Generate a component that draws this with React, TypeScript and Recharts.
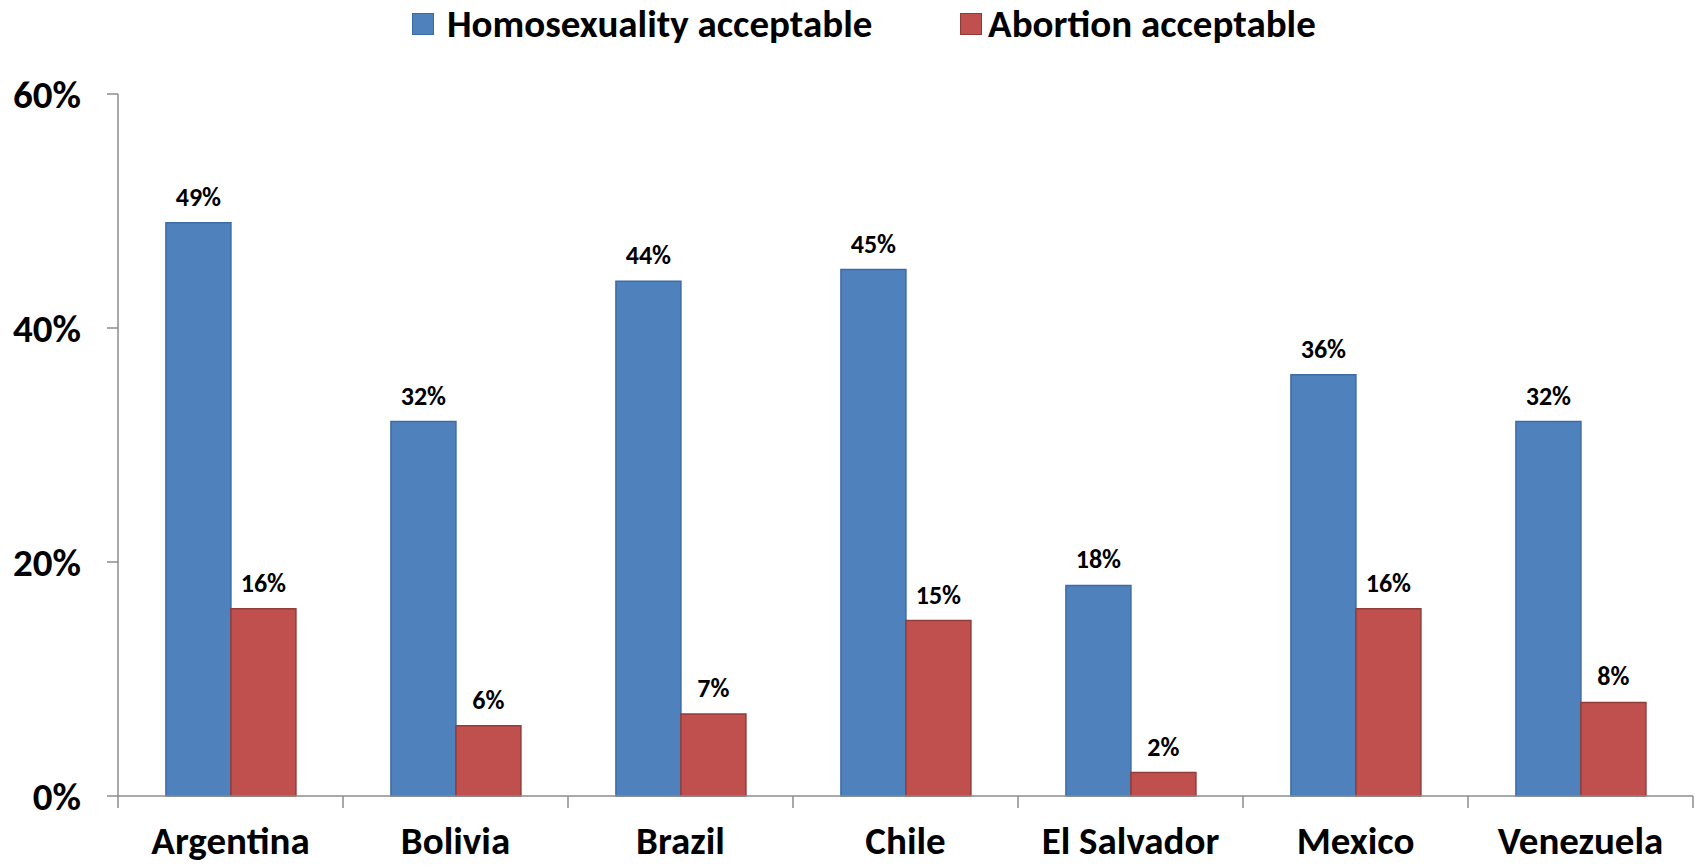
import React from 'react';
import { Bar, BarChart, XAxis, YAxis, Legend, LabelList } from 'recharts';

document.body.style.margin = '0';

const countries = ['Argentina', 'Bolivia', 'Brazil', 'Chile', 'El Salvador', 'Mexico', 'Venezuela'];
const homosexuality = [49, 32, 44, 45, 18, 36, 32];
const abortion = [16, 6, 7, 15, 2, 16, 8];
const yTicks = [0, 20, 40, 60];
const seriesOrder = ['homo', 'abort'];

const data = countries.map((name, i) => ({
    name,
    homo: homosexuality[i],
    abort: abortion[i],
}));

const font = 'Carlito, Calibri, Lato, sans-serif';
const axisGray = '#8c8c8c';
const LABEL_GAP = 30;

// category label plus the small tick marks at the band edges (Excel style)
function CategoryTick(props: any) {
    const { x, y, payload, index, visibleTicksCount } = props;
    const half = payload.offset || 0;
    const axisY = y - LABEL_GAP;
    const isLast = index === visibleTicksCount - 1;
    return (
        <g>
            <line x1={x - half} x2={x - half} y1={axisY} y2={axisY + 12} stroke={axisGray} strokeWidth={1.5} />
            {isLast && (
                <line x1={x + half} x2={x + half} y1={axisY} y2={axisY + 12} stroke={axisGray} strokeWidth={1.5} />
            )}
            <text
                x={x}
                y={y}
                dy="0.71em"
                textAnchor="middle"
                fill="#000"
                style={{ fontSize: 39, fontWeight: 700, fontFamily: font }}
            >
                {payload.value}
            </text>
        </g>
    );
}

function LegendContent(props: any) {
    const items = [...(props.payload || [])].sort(
        (a: any, b: any) => seriesOrder.indexOf(a.dataKey) - seriesOrder.indexOf(b.dataKey)
    );
    return (
        <div style={{ position: 'relative', height: 48, fontFamily: font, fontWeight: 700, fontSize: 39 }}>
            {items.map((p: any, i: number) => (
                <div
                    key={p.value}
                    style={{
                        position: 'absolute',
                        left: i === 0 ? 412 : 960,
                        top: 4,
                        height: 40,
                        lineHeight: '40px',
                        display: 'flex',
                        alignItems: 'center',
                        whiteSpace: 'nowrap',
                    }}
                >
                    <span
                        style={{
                            display: 'inline-block',
                            width: 20,
                            height: 20,
                            background: p.color,
                            border: `1px solid ${i === 0 ? '#3b6aa3' : '#8e3b39'}`,
                            marginRight: i === 0 ? 13 : 6,
                        }}
                    />
                    <span>{p.value}</span>
                </div>
            ))}
        </div>
    );
}

export default function App() {
    return (
        <BarChart
            width={1696}
            height={867}
            data={data}
            margin={{ top: 46, right: 3, bottom: 0, left: 0 }}
            barCategoryGap="21.3%"
            barGap={0}
        >
            <Legend
                verticalAlign="top"
                content={<LegendContent />}
                wrapperStyle={{ top: 0, left: 0, width: 1696, height: 48 }}
            />
            <XAxis
                dataKey="name"
                tickLine={false}
                tickSize={0}
                tickMargin={LABEL_GAP}
                height={71}
                interval={0}
                axisLine={{ stroke: axisGray, strokeWidth: 1.5 }}
                tick={<CategoryTick />}
            />
            <YAxis
                domain={[0, 60]}
                ticks={yTicks}
                tickFormatter={(v) => `${v}%`}
                width={118}
                tickSize={11}
                tickMargin={26}
                axisLine={{ stroke: axisGray, strokeWidth: 1.5 }}
                tickLine={{ stroke: axisGray, strokeWidth: 1.5 }}
                tick={{ fill: '#000', fontSize: 39, fontWeight: 700, fontFamily: font }}
            />
            <Bar dataKey="homo" name="Homosexuality acceptable" fill="#4f81bd" stroke="#3d6ca5" strokeWidth={1.5} isAnimationActive={false}>
                <LabelList
                    dataKey="homo"
                    position="top"
                    offset={17}
                    formatter={(v: any) => `${v}%`}
                    style={{ fill: '#000', fontSize: 26, fontWeight: 700, fontFamily: font }}
                />
            </Bar>
            <Bar dataKey="abort" name="Abortion acceptable" fill="#c0504d" stroke="#913d3a" strokeWidth={1.5} isAnimationActive={false}>
                <LabelList
                    dataKey="abort"
                    position="top"
                    offset={17}
                    formatter={(v: any) => `${v}%`}
                    style={{ fill: '#000', fontSize: 26, fontWeight: 700, fontFamily: font }}
                />
            </Bar>
        </BarChart>
    );
}
